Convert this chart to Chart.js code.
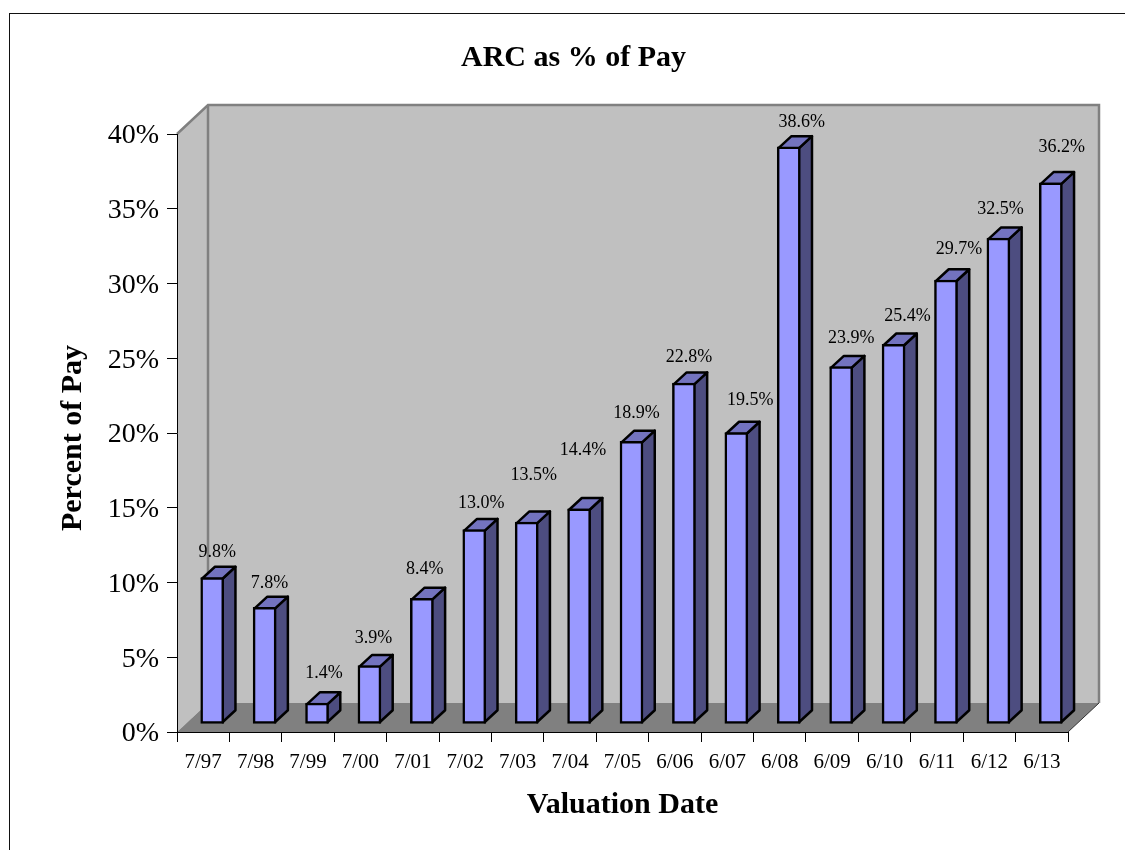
<!DOCTYPE html>
<html>
<head>
<meta charset="utf-8">
<title>ARC as % of Pay</title>
<script src="https://cdn.jsdelivr.net/npm/chart.js@4"></script>
<style>
html,body{margin:0;padding:0;background:#fff;overflow:hidden}
#wrap{position:relative;width:1125px;height:850px}
#frame{position:absolute;left:9px;top:13px;right:0;bottom:0;border-left:1px solid #111;border-top:1px solid #111;pointer-events:none}
canvas{display:block}
</style>
</head>
<body>
<div id="wrap"><canvas id="c" width="1125" height="850"></canvas><div id="frame"></div></div>
<script>
const categories = ['7/97','7/98','7/99','7/00','7/01','7/02','7/03','7/04','7/05','6/06','6/07','6/08','6/09','6/10','6/11','6/12','6/13'];
const arcPercent = [9.8,7.8,1.4,3.9,8.4,13.0,13.5,14.4,18.9,22.8,19.5,38.6,23.9,25.4,29.7,32.5,36.2];
const yTicks = [0,5,10,15,20,25,30,35,40];
const chartTitle = 'ARC as % of Pay';
const xTitle = 'Valuation Date';
const yTitle = 'Percent of Pay';

// Hand-placed value labels in the reference: nudges from each bar's top centre.
const labelNudgeX = [5,5,7,4,3,7,7,4,5,5,14,13,10,14,13,2,11];
const labelLift   = [25,24,30,27,29,26,47,58,28,26,32,25,28,28,31,29,36];

const SERIF = '"Liberation Serif","Times New Roman",serif';
const WALL_DX = 31, WALL_DY = 29;      // depth of the box
const BAR_DX = 9,  BAR_DY = 8;         // bars stand inside the box
const SIDE_DX = 13, SIDE_DY = 12;      // depth of each bar
const BAR_LINE = 2.5;
const TITLE_CENTRE_X = 573.5;          // title sits right of the canvas centre
const Y_TITLE_SHIFT = 5, Y_LABEL_SHIFT = 2;

function shiftDraw(scale, method, dy) {
  const orig = scale[method];
  if (orig._shifted) return;
  const wrapped = function () {
    const ctx = this.ctx; ctx.save(); ctx.translate(0, dy);
    orig.apply(this, arguments); ctx.restore();
  };
  wrapped._shifted = true;
  scale[method] = wrapped;
}

const box3d = {
  id: 'box3d',
  afterLayout(chart) {
    const t = chart.titleBlock;
    t.left = 2 * TITLE_CENTRE_X - t.right;
    shiftDraw(chart.scales.y, 'drawTitle', Y_TITLE_SHIFT);
    shiftDraw(chart.scales.y, 'drawLabels', Y_LABEL_SHIFT);
  },
  beforeDraw(chart) {
    const {ctx, chartArea: a} = chart;
    const L = a.left, R = a.right, T = a.top, B = a.bottom;
    ctx.save();
    ctx.fillStyle = '#c0c0c0';
    ctx.beginPath();
    ctx.moveTo(L, T); ctx.lineTo(L + WALL_DX, T - WALL_DY);
    ctx.lineTo(R + WALL_DX, T - WALL_DY); ctx.lineTo(R + WALL_DX, B - WALL_DY);
    ctx.lineTo(L + WALL_DX, B - WALL_DY); ctx.lineTo(L, B);
    ctx.closePath(); ctx.fill();
    ctx.fillStyle = '#808080';
    ctx.beginPath();
    ctx.moveTo(L, B); ctx.lineTo(L + WALL_DX, B - WALL_DY);
    ctx.lineTo(R + WALL_DX, B - WALL_DY); ctx.lineTo(R, B);
    ctx.closePath(); ctx.fill();
    ctx.strokeStyle = '#808080'; ctx.lineWidth = 2.5;
    ctx.beginPath();
    ctx.moveTo(L, T); ctx.lineTo(L + WALL_DX, T - WALL_DY);
    ctx.lineTo(R + WALL_DX, T - WALL_DY); ctx.lineTo(R + WALL_DX, B - WALL_DY);
    ctx.moveTo(L + WALL_DX, T - WALL_DY); ctx.lineTo(L + WALL_DX, B - WALL_DY);
    ctx.stroke();
    ctx.strokeStyle = '#333'; ctx.lineWidth = 1;
    ctx.beginPath();
    ctx.moveTo(R, B); ctx.lineTo(R + WALL_DX, B - WALL_DY);
    ctx.stroke();
    ctx.restore();
  },
  beforeDatasetDraw(chart, args) {
    const ctx = chart.ctx;
    ctx.save();
    ctx.translate(BAR_DX, -BAR_DY);
    ctx.lineWidth = BAR_LINE; ctx.lineJoin = 'round'; ctx.strokeStyle = '#000';
    args.meta.data.forEach(bar => {
      const half = bar.width / 2, inset = BAR_LINE / 2;
      const xr = bar.x + half - inset, xl = bar.x - half + inset;
      const yt = bar.y + inset, yb = bar.base - inset;
      ctx.fillStyle = '#4d4d80';
      ctx.beginPath();
      ctx.moveTo(xr, yt); ctx.lineTo(xr + SIDE_DX, yt - SIDE_DY);
      ctx.lineTo(xr + SIDE_DX, yb - SIDE_DY); ctx.lineTo(xr, yb);
      ctx.closePath(); ctx.fill(); ctx.stroke();
      ctx.fillStyle = '#7373bf';
      ctx.beginPath();
      ctx.moveTo(xl, yt); ctx.lineTo(xl + SIDE_DX, yt - SIDE_DY);
      ctx.lineTo(xr + SIDE_DX, yt - SIDE_DY); ctx.lineTo(xr, yt);
      ctx.closePath(); ctx.fill(); ctx.stroke();
    });
  },
  afterDatasetDraw(chart) { chart.ctx.restore(); },
  afterDatasetsDraw(chart) {
    const ctx = chart.ctx, meta = chart.getDatasetMeta(0);
    ctx.save();
    ctx.font = '18px ' + SERIF;
    ctx.fillStyle = '#000';
    ctx.textAlign = 'center';
    ctx.textBaseline = 'middle';
    meta.data.forEach((bar, i) => {
      ctx.fillText(arcPercent[i].toFixed(1) + '%',
        bar.x + BAR_DX + labelNudgeX[i],
        bar.y - BAR_DY - labelLift[i]);
    });
    ctx.restore();
  }
};

new Chart(document.getElementById('c'), {
  type: 'bar',
  data: {
    labels: categories,
    datasets: [{
      label: 'ARC as % of Pay',
      data: arcPercent,
      backgroundColor: '#9999ff',
      borderColor: '#000',
      borderWidth: BAR_LINE,
      borderSkipped: false,
      barThickness: 23,
      clip: false
    }]
  },
  plugins: [box3d],
  options: {
    responsive: false,
    animation: false,
    layout: {padding: {left: 0, right: 57, top: 0, bottom: 0}},
    plugins: {
      legend: {display: false},
      tooltip: {enabled: false},
      title: {
        display: true,
        text: chartTitle,
        color: '#000',
        font: {family: SERIF, size: 30, weight: 'bold'},
        padding: {top: 40, bottom: 58}
      }
    },
    scales: {
      x: {
        grid: {offset: true, drawOnChartArea: false, drawTicks: true, tickLength: 10, color: '#000'},
        border: {color: '#000'},
        ticks: {color: '#000', font: {family: SERIF, size: 21}, padding: 8, maxRotation: 0, autoSkip: false},
        title: {display: true, text: xTitle, color: '#000', font: {family: SERIF, size: 30, weight: 'bold'}, padding: {top: 0, bottom: 26.5}},
        afterFit(s) { s.height = 118; }
      },
      y: {
        min: 0, max: 40,
        afterBuildTicks(s) { s.ticks = yTicks.map(v => ({value: v})); },
        grid: {drawOnChartArea: false, drawTicks: true, tickLength: 10, color: '#000'},
        border: {color: '#000'},
        ticks: {color: '#000', font: {family: SERIF, size: 28}, padding: 8, callback: v => v + '%'},
        title: {display: true, text: yTitle, color: '#000', font: {family: SERIF, size: 30, weight: 'bold'}, padding: {top: 55, bottom: 0}},
        afterFit(s) { s.width = 177; }
      }
    }
  }
});
</script>
</body>
</html>
